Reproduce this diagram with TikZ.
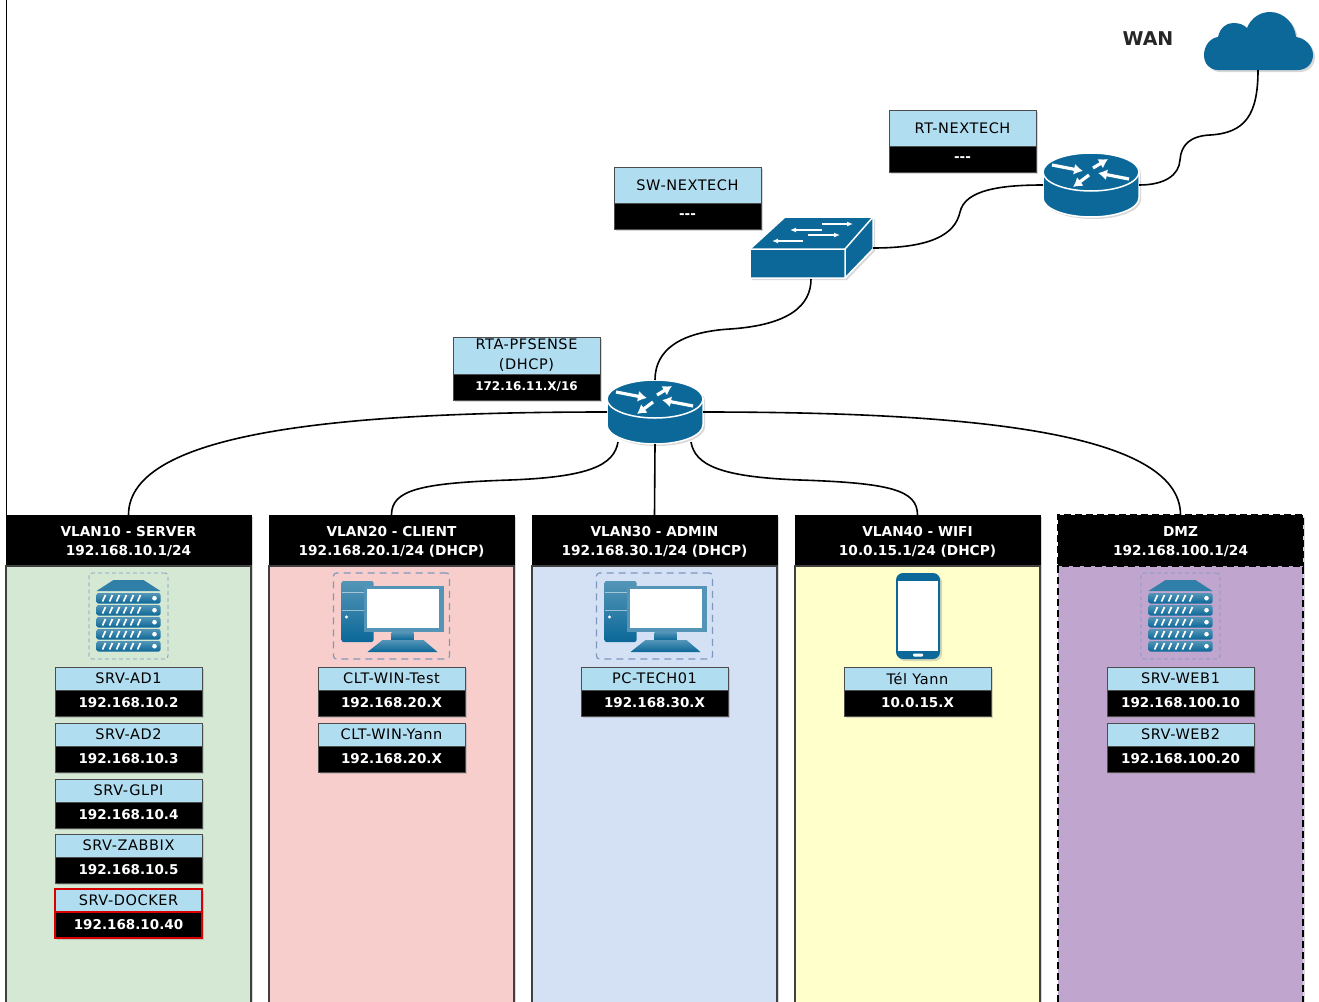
\documentclass[tikz,border=0pt]{standalone}
\usepackage{fontspec}
\setmainfont{DejaVu Sans}
\newfontfamily\spacedfont[LetterSpace=4]{DejaVu Sans}
\usetikzlibrary{positioning,arrows.meta,shadows}
\definecolor{ciscoblue}{HTML}{0B6898}
\definecolor{labelblue}{HTML}{B1DDF0}
\definecolor{srvgreen}{HTML}{D5E8D4}
\definecolor{cltred}{HTML}{F8CECC}
\definecolor{admblue}{HTML}{D4E1F5}
\definecolor{wifiyellow}{HTML}{FFFFCC}
\definecolor{dmzpurple}{HTML}{C0A6CE}
\definecolor{dashblue}{HTML}{7F97BC}
\tikzset{
  softshadow/.style={drop shadow={opacity=.3,shadow xshift=2pt,shadow yshift=-2pt}},
  link/.style={line width=1.6pt,black},
  routerarrow/.style={white,line width=3.2pt,-{Latex[length=9pt,width=11pt]}},
  switcharrow/.style={white,line width=1.2pt,-{Latex[length=6pt,width=5pt]}},
  namebox/.style={draw=black!70,fill=labelblue,text=black,minimum width=147pt,minimum height=23pt,anchor=north,
    inner sep=0pt,outer sep=0pt,font=\spacedfont\fontsize{14.5}{20}\selectfont,softshadow},
  ipbox/.style={draw=black!70,fill=black,text=white,minimum width=147pt,minimum height=26pt,
    inner sep=0pt,outer sep=0pt,font=\fontsize{13.5}{16}\selectfont\bfseries,softshadow},
  vlanhead/.style={draw=black,fill=black,text=white,minimum width=245pt,minimum height=51pt,anchor=north,
    inner sep=0pt,outer sep=0pt,align=center,font=\fontsize{13.7}{19}\selectfont\bfseries,softshadow},
  vlanbody/.style={draw=black!75,line width=1.5pt,minimum width=245pt,minimum height=445pt,
    inner sep=0pt,outer sep=0pt,softshadow},
  dmzline/.style={draw=black,line width=2pt,dash pattern=on 7pt off 4pt},
  iconbox/.style={draw=dashblue,line width=.8pt,dash pattern=on 4pt off 3pt,rounded corners=3pt,inner sep=0pt,outer sep=0pt},
  blueshade/.style={top color=ciscoblue!70,bottom color=ciscoblue},
  routericon/.pic={
    \path[fill=ciscoblue,draw=white,line width=1.5pt,softshadow] (-48,-13) -- (-48,13)
      arc[start angle=180,end angle=360,x radius=48pt,y radius=19pt] -- (48,-13)
      arc[start angle=0,end angle=180,x radius=48pt,y radius=19pt] -- cycle;
    \draw[white,line width=1.5pt] (-48,-13) arc[start angle=180,end angle=360,x radius=48pt,y radius=19pt];
    \draw[routerarrow] (-39,-20) -- (-8,-14);
    \draw[routerarrow] (2,-17) -- (17,-26);
    \draw[routerarrow] (38,-6) -- (7,-12);
    \draw[routerarrow] (-2,-10) -- (-18,2);
    \node[minimum width=96pt,minimum height=64pt,inner sep=0pt,outer sep=0pt] (-box) at (0,0) {};
    \coordinate (-sw) at (-37,30);
    \coordinate (-se) at (36,30);
  },
  switchicon/.pic={
    \path[fill=ciscoblue,draw=white,line width=1.5pt,softshadow,line join=round] (-61,1) -- (-26,-31) -- (62,-31)
      -- (62,1) -- (34,30) -- (-61,30) -- cycle;
    \draw[white,line width=1.5pt,line join=round] (-61,1) -- (34,1) -- (62,-31) (34,1) -- (34,30);
    \draw[switcharrow] (11,-24) -- (42,-24);
    \draw[switcharrow] (11,-18) -- (-21,-18);
    \draw[switcharrow] (-3,-13) -- (29,-13);
    \draw[switcharrow] (-8,-7) -- (-39,-7);
    \node[minimum width=124pt,minimum height=62pt,inner sep=0pt,outer sep=0pt] (-box) at (0,0) {};
  },
  cloudicon/.pic={
    \fill[ciscoblue,softshadow] (-40,30) .. controls (-48,30) and (-54,24) .. (-54,15)
      .. controls (-54,6) and (-48,-2) .. (-40,-3) .. controls (-38,-12) and (-32,-17) .. (-25,-17)
      .. controls (-18,-17) and (-14,-15) .. (-11,-12) .. controls (-7,-22) and (2,-28) .. (12,-28)
      .. controls (26,-28) and (37,-16) .. (38,-3) .. controls (47,-2) and (55,6) .. (55,15)
      .. controls (55,24) and (48,30) .. (40,30) -- cycle;
    \node[minimum width=110pt,minimum height=60pt,inner sep=0pt,outer sep=0pt] (-box) at (0,0) {};
  },
  servericon/.pic={
    \node[iconbox,minimum width=79pt,minimum height=86pt] (-box) at (0,0) {};
    \fill[ciscoblue!85] (-32,-25) -- (-15,-36) -- (15,-36) -- (32,-25) -- cycle;
    \foreach \uy in {-23,-11,1,13,25} {
      \path[blueshade,rounded corners=2pt] (-32,\uy) rectangle (32,\uy+10.5);
      \foreach \ux in {-26,-19,-12,-5,2,9}
        \draw[white,line width=1.7pt] (\ux,\uy+8.5) -- (\ux+3,\uy+2);
      \fill[white] (26,\uy+5.2) circle[radius=2.3pt];
    }
  },
  pcicon/.pic={
    \node[iconbox,line width=1.2pt,dash pattern=on 7pt off 5pt,minimum width=116pt,minimum height=86pt] (-box) at (0,0) {};
    \path[blueshade,rounded corners=2pt] (-50,-35) rectangle (-18,26);
    \draw[white,opacity=.5] (-50,-24) -- (-18,-24) (-50,-6) -- (-18,-6);
    \fill[white] (-45,1) circle[radius=1.7pt];
    \path[blueshade] (0,16) rectangle (22,24);
    \path[blueshade] (-24,36) -- (-9,24) -- (32,24) -- (46,36) -- cycle;
    \fill[ciscoblue!70] (-28,-30) rectangle (52,16);
    \fill[white] (-25,-27) rectangle (47,12);
  },
  phoneicon/.pic={
    \fill[ciscoblue,rounded corners=7pt,softshadow] (-22,-43) rectangle (22,43);
    \fill[white] (-20,-35) rectangle (20,35);
    \fill[white,rounded corners=1pt] (-5,37.5) rectangle (5,40.5);
    \node[minimum width=44pt,minimum height=86pt,inner sep=0pt,outer sep=0pt] (-box) at (0,0) {};
  }
}
\begin{document}
\begin{tikzpicture}[x=1pt,y=-1pt]
  \clip (0,0) rectangle (1319,1001);
  \fill[white] (0,0) rectangle (1319,1001);

  % vlans
  \node[vlanhead] (vlan10head) at (128.5,515) {\rule{0pt}{13pt}VLAN10 - SERVER\\192.168.10.1/24};
  \node[vlanbody,fill=srvgreen,below=0pt of vlan10head] (vlan10body) {};
  \node[vlanhead] (vlan20head) at (391.5,515) {\rule{0pt}{13pt}VLAN20 - CLIENT\\192.168.20.1/24 (DHCP)};
  \node[vlanbody,fill=cltred,below=0pt of vlan20head] (vlan20body) {};
  \node[vlanhead] (vlan30head) at (654.5,515) {\rule{0pt}{13pt}VLAN30 - ADMIN\\192.168.30.1/24 (DHCP)};
  \node[vlanbody,fill=admblue,below=0pt of vlan30head] (vlan30body) {};
  \node[vlanhead] (vlan40head) at (917.5,515) {\rule{0pt}{13pt}VLAN40 - WIFI\\10.0.15.1/24 (DHCP)};
  \node[vlanbody,fill=wifiyellow,below=0pt of vlan40head] (vlan40body) {};
  \node[vlanhead,dmzline] (dmzhead) at (1180.5,515) {\rule{0pt}{13pt}DMZ\\192.168.100.1/24};
  \node[vlanbody,dmzline,fill=dmzpurple,below=0pt of dmzhead] (dmzbody) {};

  % icons
  \pic (wan) at (1258,40) {cloudicon};
  \pic (rt) at (1091,185) {routericon};
  \pic (sw) at (811,248) {switchicon};
  \pic (rta) at (655,412) {routericon};
  \pic (srvvlan) at (128.5,616) {servericon};
  \pic (cltvlan) at (391.5,616) {pcicon};
  \pic (admvlan) at (654.5,616) {pcicon};
  \pic (telvlan) at (918,616) {phoneicon};
  \pic (srvdmz) at (1180.5,616) {servericon};

  \node[font=\fontsize{19}{24}\selectfont\bfseries,text=black!85] (wantext) at (1148,39) {WAN};

  % routers and switch
  \node[namebox,minimum height=36pt] (rtname) at (962.5,110) {RT-NEXTECH};
  \node[ipbox,below=0pt of rtname] (rtip) {-{}-{}-};
  \node[namebox,minimum height=36pt] (swname) at (687.5,167) {SW-NEXTECH};
  \node[ipbox,below=0pt of swname] (swip) {-{}-{}-};
  \node[namebox,minimum height=37pt,align=center] (rtaname) at (526.5,337) {RTA-PFSENSE\\(DHCP)};
  \node[ipbox,font=\fontsize{12}{14}\selectfont\bfseries,below=0pt of rtaname] (rtaip) {172.16.11.X/16};

  % vlan10
  \node[namebox] (ad1name) at (128.5,667) {SRV-AD1};
  \node[ipbox,below=0pt of ad1name] (ad1ip) {192.168.10.2};
  \node[namebox] (ad2name) at (128.5,723) {SRV-AD2};
  \node[ipbox,below=0pt of ad2name] (ad2ip) {192.168.10.3};
  \node[namebox] (glpiname) at (128.5,779) {SRV-GLPI};
  \node[ipbox,below=0pt of glpiname] (glpiip) {192.168.10.4};
  \node[namebox] (zabbixname) at (128.5,834) {SRV-ZABBIX};
  \node[ipbox,below=0pt of zabbixname] (zabbixip) {192.168.10.5};
  \node[namebox,draw=red!85!black,line width=2pt] (dockername) at (128.5,889) {SRV-DOCKER};
  \node[ipbox,draw=red!85!black,line width=2pt,below=0pt of dockername] (dockerip) {192.168.10.40};
  % vlan20
  \node[namebox] (testname) at (391.5,667) {CLT-WIN-Test};
  \node[ipbox,below=0pt of testname] (testip) {192.168.20.X};
  \node[namebox] (yannname) at (391.5,723) {CLT-WIN-Yann};
  \node[ipbox,below=0pt of yannname] (yannip) {192.168.20.X};
  % vlan30
  \node[namebox] (techname) at (654.5,667) {PC-TECH01};
  \node[ipbox,below=0pt of techname] (techip) {192.168.30.X};
  % vlan40
  \node[namebox] (telname) at (917.5,667) {Tél Yann};
  \node[ipbox,below=0pt of telname] (telip) {10.0.15.X};
  % dmz
  \node[namebox] (web1name) at (1180.5,667) {SRV-WEB1};
  \node[ipbox,below=0pt of web1name] (web1ip) {192.168.100.10};
  \node[namebox] (web2name) at (1180.5,723) {SRV-WEB2};
  \node[ipbox,below=0pt of web2name] (web2ip) {192.168.100.20};

  % links
  \coordinate (frametop) at (6,0);
  \draw[line width=1pt] (frametop) -- (vlan10head.north west);
  \draw[link] (wan-box.south) .. controls (1258,115) and (1245,133) .. (1210,135)
    .. controls (1190,136) and (1181,145) .. (1180,160) .. controls (1179,175) and (1165,185) .. (rt-box.east);
  \draw[link] (rt-box.west) .. controls (1000,185) and (965,190) .. (960,212)
    .. controls (955,235) and (930,248) .. (sw-box.east);
  \draw[link] (sw-box.south) .. controls (811,305) and (790,325) .. (730,329)
    .. controls (680,332) and (655,350) .. (rta-box.north);
  \draw[link] (rta-box.west) .. controls (350,412) and (128.5,430) .. (vlan10head.north);
  \draw[link] (rta-box.east) .. controls (960,412) and (1180.5,430) .. (dmzhead.north);
  \draw[link] (rta-sw) .. controls (614,465) and (590,477) .. (510,480)
    .. controls (420,483) and (391.5,490) .. (vlan20head.north);
  \draw[link] (rta-box.south) -- (vlan30head.north);
  \draw[link] (rta-se) .. controls (695,465) and (720,477) .. (800,480)
    .. controls (890,483) and (917.5,490) .. (vlan40head.north);
\end{tikzpicture}
\end{document}
